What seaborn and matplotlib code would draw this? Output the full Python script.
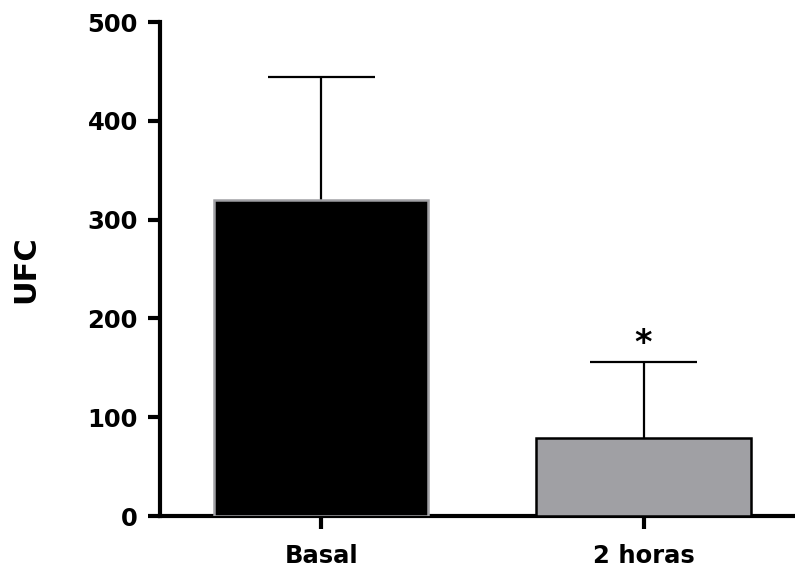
import matplotlib
matplotlib.use("Agg")
import matplotlib.pyplot as plt
import seaborn as sns
import numpy as np
import pandas as pd

sns.set_style("ticks")
plt.rcParams['font.family'] = ['DejaVu Sans']

groups = ["Basal", "2 horas"]
means = [320, 79]
sd_up = [124, 77]
bar_colors = ["#000000", "#a0a0a4"]
edge_colors = ["#a0a0a4", "#000000"]

df = pd.DataFrame({"grupo": groups, "UFC": means})
bar_w = 0.665

fig = plt.figure(figsize=(7.95, 5.69), dpi=100)
ax = fig.add_axes([160 / 795, 53 / 569, 1 - 160 / 795, (516 - 22) / 569])

sns.barplot(data=df, x="grupo", y="UFC", hue="grupo", palette=bar_colors,
            width=bar_w, legend=False, ax=ax)
for p, ec in zip(ax.patches, edge_colors):
    p.set_edgecolor(ec)
    p.set_linewidth(1.8)
    p.set_zorder(5)

# only the upper half of the SD is drawn, Prism style
xpos = np.arange(len(groups))
tops = np.array(means) + np.array(sd_up)
ax.vlines(xpos, means, tops, color="black", linewidth=1.6, zorder=2)
ax.hlines(tops, xpos - bar_w / 4, xpos + bar_w / 4, color="black", linewidth=1.6, zorder=2)

ax.text(1, tops[1] + 19, "*", ha="center", va="center",
        fontsize=24, fontweight="bold", color="black")

ax.set_xlim(-0.5, 1.47)
ax.set_ylim(0, 500)
ax.set_yticks([0, 100, 200, 300, 400, 500])
ax.set_xlabel("")
ax.set_ylabel("UFC", fontsize=22, fontweight="bold", color="black", labelpad=34)

sns.despine(ax=ax)
for axis in ['left', 'bottom']:
    ax.spines[axis].set_linewidth(3)
    ax.spines[axis].set_color("black")
ax.tick_params(axis='both', length=9, width=3, colors="black", labelsize=17.5)
ax.tick_params(axis='y', pad=7)
ax.tick_params(axis='x', pad=11)
for lab in ax.get_xticklabels() + ax.get_yticklabels():
    lab.set_fontweight("bold")

fig.savefig("out.png", dpi=100)
